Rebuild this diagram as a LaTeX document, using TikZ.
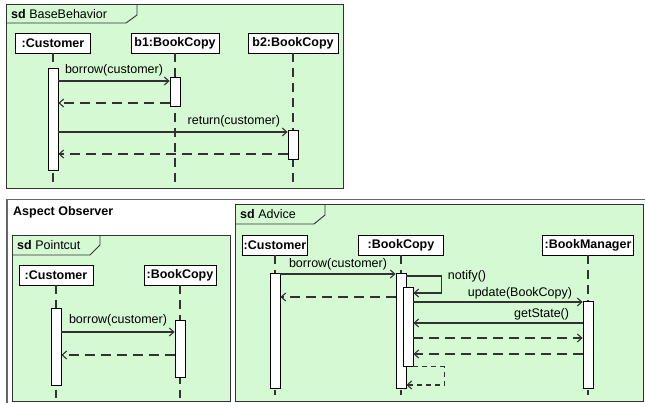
\documentclass[tikz,border=0pt]{standalone}
\usepackage{fontspec}
\setmainfont{Liberation Sans}
\usepackage{xcolor}
\usepackage{tikz}
\usetikzlibrary{arrows.meta}

\definecolor{sdgreen}{RGB}{213,249,211}
\definecolor{rulegray}{RGB}{50,50,50}

\tikzset{
  sdframe/.style={draw=rulegray, fill=sdgreen, line width=1pt},
  sdtab/.style={draw=rulegray, line width=0.9pt},
  head/.style={draw=black, fill=white, line width=0.9pt, inner sep=0pt, minimum height=20pt,
    font=\bfseries\fontsize{12.5}{13}\selectfont},
  act/.style={draw=black, fill=white, line width=0.8pt, inner sep=0pt, minimum width=10pt, anchor=north},
  life/.style={draw=rulegray, line width=1.1pt, dash pattern=on 9pt off 6pt},
  call/.style={draw=rulegray, line width=1.1pt, -{Straight Barb[length=4.5pt,width=8pt]}},
  reply/.style={call, dash pattern=on 10pt off 6pt},
  lbl/.style={font=\fontsize{12.5}{13}\selectfont, inner sep=1pt}
}

\begin{document}
\begin{tikzpicture}[x=1pt, y=-1pt]
\useasboundingbox (0,0) rectangle (645,403);

% Frame: BaseBehavior
\draw[sdframe] (6,5) rectangle (343,189);
\draw[sdtab] (6,23) -- (126,23) -- (137,15) -- (137,5);
\node[lbl, anchor=west] (bbTitle) at (10,14) {\textbf{sd} BaseBehavior};

\node[head, minimum width=75pt] (bbCust) at (53,43) {:Customer};
\node[head, minimum width=88pt] (bbCopyOne) at (175,43) {b1:BookCopy};
\node[head, minimum width=90pt] (bbCopyTwo) at (293,43) {b2:BookCopy};

% lifelines
\foreach \n in {bbCust,bbCopyOne,bbCopyTwo} {
    \draw[life] (\n.south) -- (\n.south |- 0,186);
}

% activations
\node[act, minimum height=102pt] (bbCustAct) at (bbCust.south |- 0,68) {};
\node[act, minimum height=29pt] (bbCopyOneAct) at (bbCopyOne.south |- 0,77) {};
\node[act, minimum height=29pt] (bbCopyTwoAct) at (bbCopyTwo.south |- 0,130) {};

% messages
\draw[call] (bbCustAct.east |- 0,81) -- (bbCopyOneAct.west |- 0,81)
    node[lbl, midway, above=3pt] {borrow(customer)};
\draw[reply] (bbCopyOneAct.west |- 0,103) -- (bbCustAct.east |- 0,103);
\draw[call] (bbCustAct.east |- 0,132) -- (bbCopyTwoAct.west |- 0,132)
    node[lbl, pos=1, anchor=south east, xshift=-6pt, yshift=3pt] {return(customer)};
\draw[reply] (bbCopyTwoAct.west |- 0,154) -- (bbCustAct.east |- 0,154);

% Aspect Observer
\draw[gray!80!black, line width=1.6pt] (7,403) -- (7,199.5) -- (645,199.5);
\node[lbl, anchor=west, font=\bfseries\fontsize{12.5}{13}\selectfont] (aoTitle) at (12,212) {Aspect Observer};

% Frame: Pointcut
\draw[sdframe] (12,236) rectangle (230,401);
\draw[sdtab] (12,255) -- (90,255) -- (100,245) -- (100,236);
\node[lbl, anchor=west] (pcTitle) at (16,245.5) {\textbf{sd} Pointcut};

\node[head, minimum width=74pt] (pcCust) at (56,275) {:Customer};
\node[head, minimum width=72pt] (pcCopy) at (180,275) {:BookCopy};

\foreach \n in {pcCust,pcCopy} {
    \draw[life] (\n.south) -- (\n.south |- 0,398);
}

\node[act, minimum height=77pt] (pcCustAct) at (pcCust.south |- 0,308) {};
\node[act, minimum height=57pt] (pcCopyAct) at (pcCopy.south |- 0,320) {};

\draw[call] (pcCustAct.east |- 0,332) -- (pcCopyAct.west |- 0,332)
    node[lbl, midway, above=4pt] {borrow(customer)};
\draw[reply] (pcCopyAct.west |- 0,355) -- (pcCustAct.east |- 0,355);

% Frame: Advice
\draw[sdframe] (235,205) rectangle (643,401);
\draw[sdtab] (235,224) -- (314,224) -- (325,215) -- (325,205);
\node[lbl, anchor=west] (adTitle) at (239,214.5) {\textbf{sd} Advice};

\node[head, minimum width=65pt] (adCust) at (275,245) {:Customer};
\node[head, minimum width=85pt] (adCopy) at (401,245) {:BookCopy};
\node[head, minimum width=91pt] (adMgr) at (588,245) {:BookManager};

\foreach \n in {adCust,adCopy,adMgr} {
    \draw[life] (\n.south) -- (\n.south |- 0,395);
}

\node[act, minimum height=115pt] (adCustAct) at (adCust.south |- 0,273) {};
\node[act, minimum height=115pt] (adCopyAct) at (adCopy.south |- 0,273) {};
\node[act, minimum height=79pt, xshift=7pt] (adCopyInner) at (adCopy.south |- 0,287) {};
\node[act, minimum height=87pt] (adMgrAct) at (adMgr.south |- 0,301) {};

\draw[call] (adCustAct.east |- 0,274) -- (adCopyAct.west |- 0,274)
    node[lbl, midway, above=2pt] {borrow(customer)};
\draw[reply] (adCopyAct.west |- 0,297) -- (adCustAct.east |- 0,297);
\draw[call] (adCopyAct.east |- 0,276) -- ++(35,0)
    node[lbl, anchor=west, xshift=5pt] {notify()} |- (adCopyInner.east |- 0,293);
\draw[call] (adCopyInner.east |- 0,302) -- (adMgrAct.west |- 0,302)
    node[lbl, pos=1, anchor=south east, xshift=-9pt, yshift=1pt] {update(BookCopy)};
\draw[call] (adMgrAct.west |- 0,323) -- (adCopyInner.east |- 0,323)
    node[lbl, pos=0, anchor=south east, xshift=-12pt, yshift=1pt] {getState()};
\draw[reply] (adCopyInner.east |- 0,338) -- (adMgrAct.west |- 0,338);
\draw[reply] (adMgrAct.west |- 0,354) -- (adCopyInner.east |- 0,354);
\draw[reply, dash pattern=on 5pt off 4pt] (adCopyInner.south east) -- ++(31,0)
    |- (adCopyAct.east |- 0,385);
\end{tikzpicture}
\end{document}
